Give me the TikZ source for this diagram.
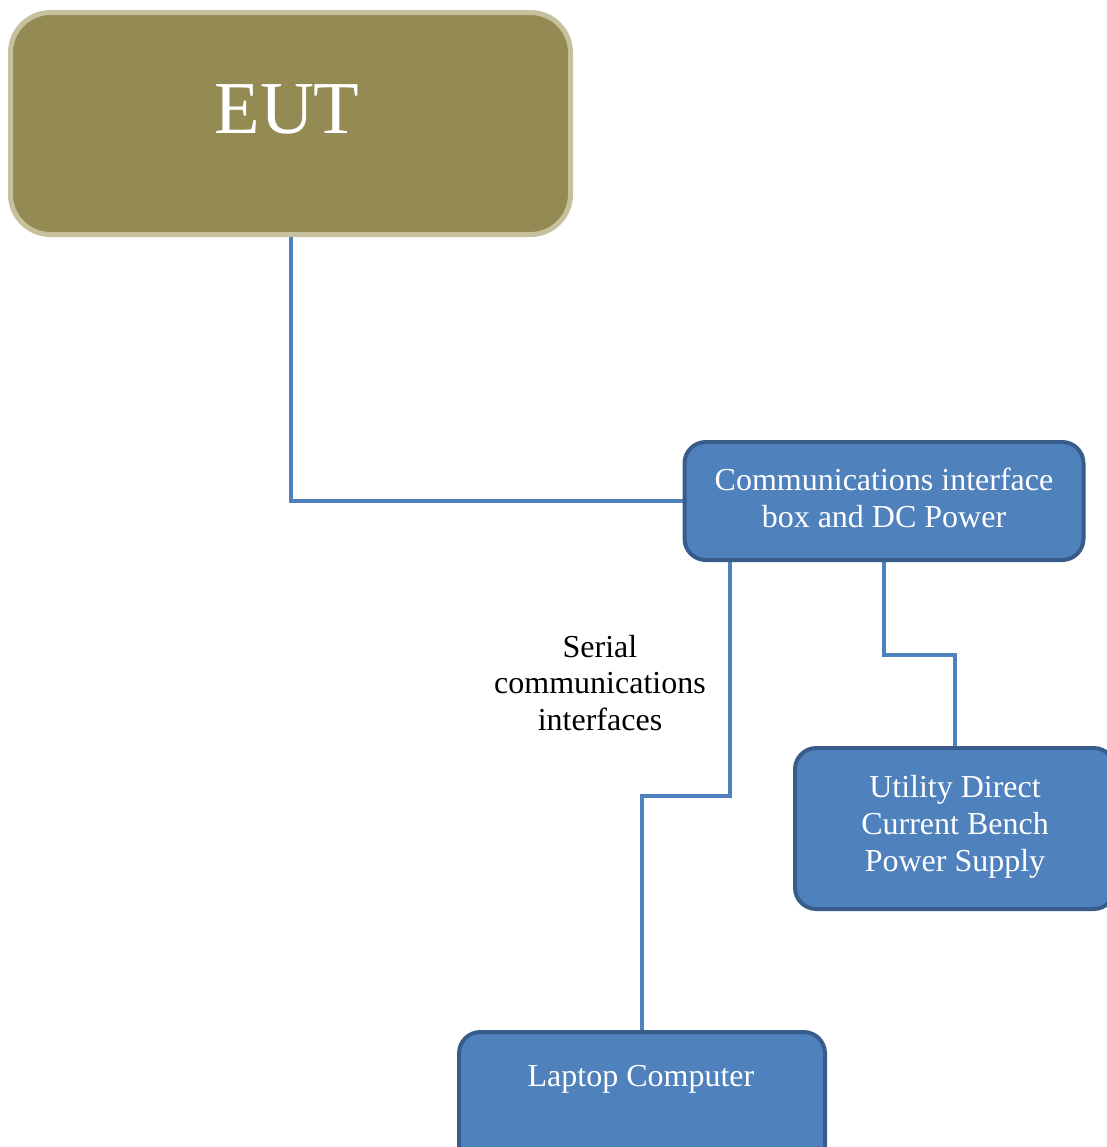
\documentclass[tikz,border=0pt]{standalone}
\usepackage{fontspec}
\setmainfont{Liberation Serif}
\definecolor{eutfill}{HTML}{948A54}
\definecolor{eutedge}{HTML}{C7C09D}
\definecolor{boxfill}{HTML}{4F81BD}
\definecolor{boxedge}{HTML}{385D8A}
\begin{document}
\begin{tikzpicture}[x=0.75pt,y=-0.75pt,
		eutbox/.style={draw=eutedge,fill=eutfill,line width=3.75pt,rounded corners=30pt,minimum width=420pt,minimum height=166.5pt},
		bluebox/.style={draw=boxedge,fill=boxfill,line width=3pt,rounded corners=16pt},
		boxtext/.style={text=white,align=center,font=\fontsize{24}{27.5}\selectfont},
		wire/.style={draw=boxfill,line width=3pt}]
			\useasboundingbox (0,0) rectangle (1107,1147);
			\node[eutbox] (eut) at (290.5,123.5) {};
			\node[text=white,font=\fontsize{56}{60}\selectfont] (eutlbl) at (287,109) {EUT};
			\node[bluebox,minimum width=299.25pt,minimum height=88.5pt] (comm) at (884,501) {};
			\node[boxtext] (commlbl) at (884,498) {Communications interface\\box and DC Power};
			\node[bluebox,minimum width=240pt,minimum height=120.75pt] (util) at (955,828.5) {};
			\node[boxtext] (utillbl) at (955,827) {Utility Direct\\Current Bench\\Power Supply};
			\node[bluebox,minimum width=274.5pt,minimum height=120.75pt] (laptop) at (642,1112.5) {};
			\node[boxtext] (laptoplbl) at (641,1079) {Laptop Computer};
			\node[align=center,font=\fontsize{24}{27.5}\selectfont] (serial) at (600,683) {Serial\\communications\\interfaces};
			\coordinate (s1) at (730,796);
			\coordinate (s2) at (884,655);
			\draw[wire](eut.south)|-(comm.west);
			\draw[wire](comm.south -| s1)--(s1)-|(laptop.north);
			\draw[wire](comm.south)--(s2)-|(util.north);
		\end{tikzpicture}
\end{document}
